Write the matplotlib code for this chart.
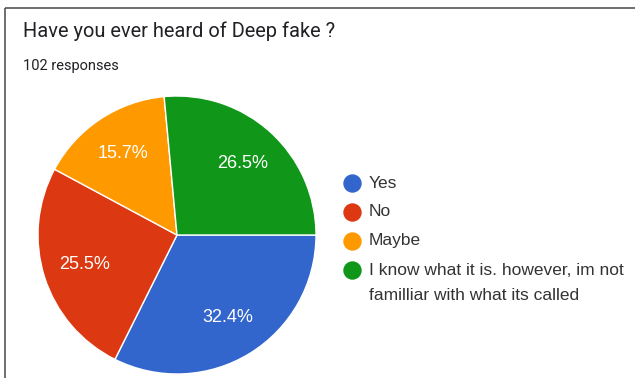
import matplotlib.pyplot as plt
from matplotlib.patches import Rectangle

# data
labels = ["Yes", "No", "Maybe",
          "I know what it is. however, im not\nfamilliar with what its called"]
shares = [32.4, 25.5, 15.7, 26.5]
colors = ["#3366CC", "#DC3912", "#FF9900", "#109618"]
title = "Have you ever heard of Deep fake ?"
subtitle = "102 responses"

W, H = 635, 378
fig = plt.figure(figsize=(W / 100, H / 100), dpi=100)
fig.patch.set_facecolor("white")

# overlay in pixel coordinates (y grows downward)
ov = fig.add_axes([0, 0, 1, 1])
ov.set_xlim(0, W)
ov.set_ylim(H, 0)
ov.axis("off")

# card border (cropped on the right and bottom)
ov.add_patch(Rectangle((5, 8), 700, 400, fill=False, edgecolor="#555555", linewidth=1.2))

ov.text(23, 31, title, fontsize=14.4, family="Roboto", color="#202124", va="center")
ov.text(23, 66, subtitle, fontsize=10.5, family="Roboto", color="#202124", va="center")

# pie
cx, cy, r = 177, 235, 139
ax = fig.add_axes([(cx - r) / W, (H - cy - r) / H, 2 * r / W, 2 * r / H])
wedges, texts, autotexts = ax.pie(
    shares,
    colors=colors,
    startangle=0,
    counterclock=False,
    autopct="%.1f%%",
    pctdistance=0.7,
    wedgeprops=dict(edgecolor="white", linewidth=1),
    textprops=dict(color="white", fontsize=13, family="Liberation Sans"),
)
ax.set_xlim(-1, 1)
ax.set_ylim(-1, 1)
ax.set_aspect("equal")
ax.axis("off")

# legend
y0, dy = 183, 29
for i, (lab, col) in enumerate(zip(labels, colors)):
    y = y0 + i * dy
    ov.scatter([352], [y], s=150, color=col, zorder=3)
    if "\n" in lab:
        ov.text(369, y - 7, lab, fontsize=12.5, family="Liberation Sans",
                color="#333333", va="top", linespacing=1.85)
    else:
        ov.text(369, y, lab, fontsize=12.5, family="Liberation Sans",
                color="#333333", va="center")

fig.savefig("out.png", dpi=100)
